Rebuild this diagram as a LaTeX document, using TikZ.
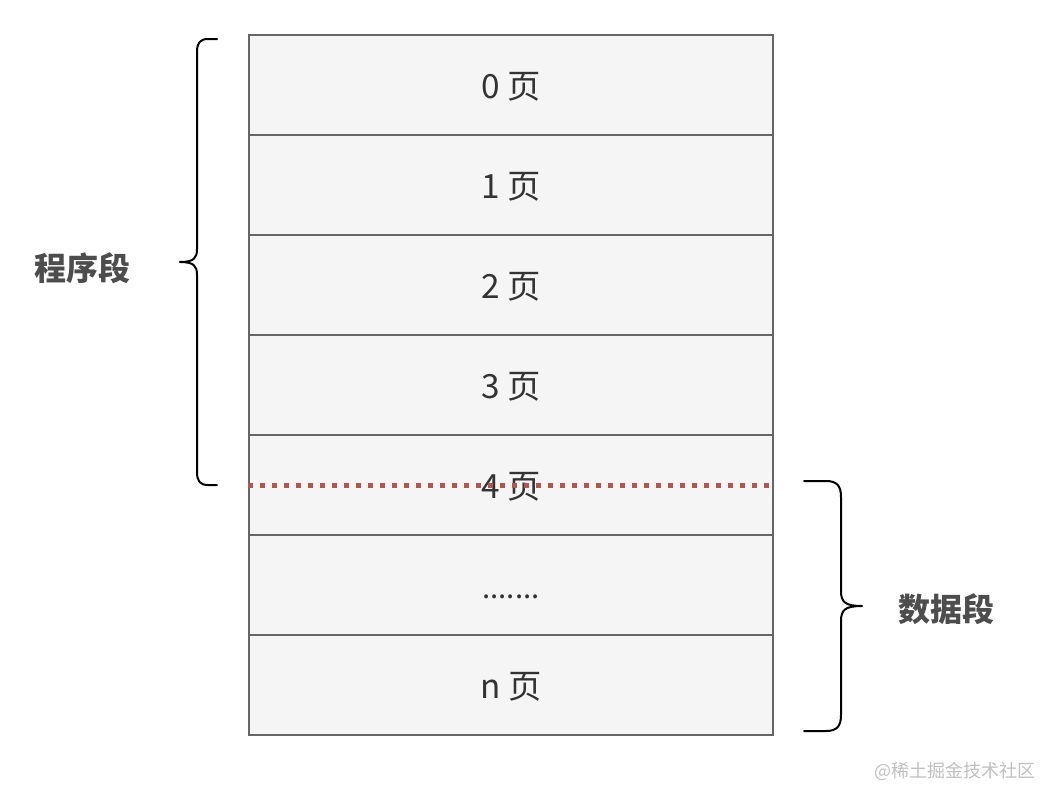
\documentclass[tikz,border=0pt]{standalone}
\usepackage{fontspec}
\setmainfont{Noto Sans CJK SC}
\definecolor{boxfill}{HTML}{F5F5F5}
\definecolor{boxline}{HTML}{666666}
\definecolor{txt}{HTML}{333333}
\definecolor{lbl}{HTML}{4D4D4D}
\definecolor{reddot}{HTML}{B85450}
\definecolor{wm}{HTML}{C0C0C0}
\begin{document}
\begin{tikzpicture}[x=0.75pt,y=-0.75pt,
  rowbox/.style={draw=boxline,fill=boxfill,line width=1.5pt,minimum width=393pt,minimum height=75pt,inner sep=0pt,text=txt,font=\fontsize{25}{28}\selectfont,text height=22pt,text depth=2pt},
  bracestyle/.style={draw=black,line width=1.5pt,line cap=round,line join=round},
  seglabel/.style={text=lbl,font=\fontsize{24}{28}\selectfont\bfseries},
  divline/.style={draw=reddot,line width=3.75pt,dash pattern=on 3.75pt off 5.25pt}]
\useasboundingbox (0,0) rectangle (1061,803);
\fill[white] (0,0) rectangle (1061,803);
\node[rowbox] (r0) at (511,85) {0 页};
\node[rowbox] (r1) at (511,185) {1 页};
\node[rowbox] (r2) at (511,285) {2 页};
\node[rowbox] (r3) at (511,385) {3 页};
\node[rowbox] (r4) at (511,485) {4 页};
\node[rowbox] (r5) at (511,585) {\fontsize{22}{26}\selectfont .......};
\node[rowbox] (rn) at (511,685) {n 页};
\draw[divline] (r4.west) -- (r4.east);
% left brace
\draw[bracestyle] (217,39) -- (208,39) .. controls (200,39) and (197,43) .. (197,52)
  -- (197,249) .. controls (197,258) and (194,262) .. (180,262)
  .. controls (194,262) and (197,266) .. (197,275)
  -- (197,472) .. controls (197,481) and (200,485) .. (208,485) -- (217,485);
% right brace
\draw[bracestyle] (804,481) -- (826,481) .. controls (837,481) and (841,486) .. (841,497)
  -- (841,591) .. controls (841,602) and (845,606) .. (862,606)
  .. controls (845,606) and (841,610) .. (841,621)
  -- (841,715) .. controls (841,726) and (837,731) .. (826,731) -- (804,731);
\node[seglabel] (prog) at (83,268) {程序段};
\node[seglabel] (data) at (946,609) {数据段};
\node[text=wm,font=\fontsize{13.5}{16}\selectfont,anchor=east] (wmk) at (1040,771) {@稀土掘金技术社区};
\end{tikzpicture}
\end{document}
